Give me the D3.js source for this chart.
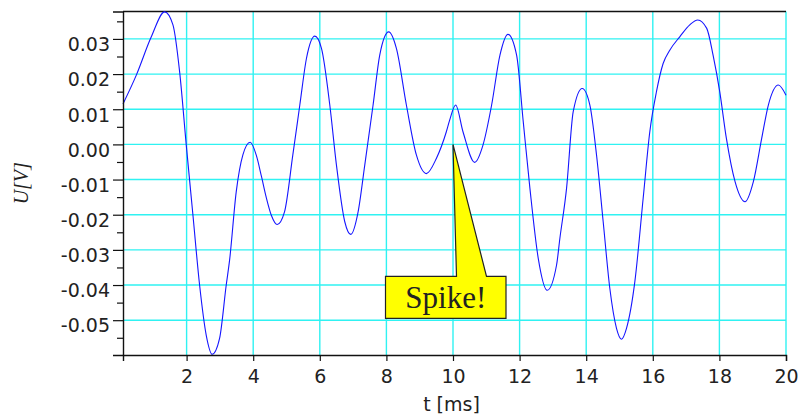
<!DOCTYPE html>
<html>
<head>
<meta charset="utf-8">
<script src="https://cdn.jsdelivr.net/npm/d3@7"></script>
<style>
  html, body { margin: 0; padding: 0; background: #fff; }
  svg { display: block; }
</style>
</head>
<body>
<svg id="chart" width="798" height="416"></svg>
<script>
// ---- data ----
const timeMs = [0.09, 0.49, 0.94, 1.34, 1.59, 1.79, 1.99, 2.19, 2.39, 2.59, 2.77, 2.99, 3.19, 3.29, 3.49, 3.69, 3.91, 4.09, 4.25, 4.39, 4.55, 4.72, 4.94, 5.19, 5.40, 5.60, 5.85, 6.05, 6.30, 6.50, 6.75, 6.93, 7.15, 7.35, 7.60, 7.80, 8.07, 8.30, 8.60, 8.90, 9.20, 9.50, 9.80, 9.90, 10.08, 10.30, 10.65, 10.90, 11.16, 11.41, 11.65, 11.91, 12.11, 12.31, 12.56, 12.83, 13.11, 13.21, 13.41, 13.61, 13.88, 14.11, 14.31, 14.51, 14.71, 14.91, 15.06, 15.21, 15.46, 15.71, 15.91, 16.11, 16.31, 16.51, 16.81, 17.11, 17.35, 17.62, 17.81, 18.01, 18.21, 18.47, 18.77, 19.02, 19.27, 19.47, 19.77, 20.00];
const voltage = [0.0115, 0.0197, 0.0306, 0.0377, 0.0340, 0.0207, -0.0002, -0.0201, -0.0400, -0.0543, -0.0597, -0.0552, -0.0400, -0.0330, -0.0135, -0.0030, 0.0006, -0.0030, -0.0092, -0.0150, -0.0203, -0.0228, -0.0192, -0.0030, 0.0112, 0.0245, 0.0308, 0.0273, 0.0112, -0.0059, -0.0220, -0.0256, -0.0192, -0.0059, 0.0112, 0.0254, 0.0320, 0.0273, 0.0112, -0.0030, -0.0083, -0.0040, 0.0036, 0.0069, 0.0112, 0.0036, -0.0051, -0.0002, 0.0112, 0.0254, 0.0313, 0.0254, 0.0064, -0.0125, -0.0324, -0.0415, -0.0343, -0.0267, -0.0125, 0.0093, 0.0159, 0.0112, -0.0030, -0.0220, -0.0410, -0.0523, -0.0554, -0.0523, -0.0391, -0.0154, 0.0036, 0.0150, 0.0230, 0.0268, 0.0306, 0.0340, 0.0354, 0.0330, 0.0254, 0.0150, 0.0017, -0.0106, -0.0163, -0.0106, 0.0017, 0.0112, 0.0169, 0.0140];
const xTicks = [2, 4, 6, 8, 10, 12, 14, 16, 18, 20];
const yTicks = [-0.05, -0.04, -0.03, -0.02, -0.01, 0.00, 0.01, 0.02, 0.03];
const yMinorTicks = [-0.055, -0.045, -0.035, -0.025, -0.015, -0.005, 0.005, 0.015, 0.025, 0.035];
const xDomain = [0.09, 20];
const yDomain = [-0.0599, 0.0378];
const annotation = { t: 10, u: 0.0, text: "Spike!" };
const xLabel = "t [ms]";
const yLabel = "U[V]";

// ---- layout ----
const W = 798, H = 416;
const m = { left: 123, right: 12, top: 11.5, bottom: 61 };
const iw = W - m.left - m.right, ih = H - m.top - m.bottom;

const svg = d3.select("#chart");
const g = svg.append("g").attr("transform", `translate(${m.left},${m.top})`);

const x = d3.scaleLinear().domain(xDomain).range([0, iw]);
const y = d3.scaleLinear().domain(yDomain).range([ih, 0]);

const gridColor = "#2ff2f2";
// grid
g.append("g").selectAll("line.h").data(yTicks).join("line")
  .attr("x1", 0).attr("x2", iw)
  .attr("y1", d => y(d)).attr("y2", d => y(d))
  .attr("stroke", gridColor).attr("stroke-width", 1.4);
g.append("g").selectAll("line.v").data(xTicks).join("line")
  .attr("x1", d => x(d)).attr("x2", d => x(d))
  .attr("y1", 0).attr("y2", ih)
  .attr("stroke", gridColor).attr("stroke-width", 1.4);

// top border
g.append("line").attr("x1", 0).attr("x2", iw).attr("y1", 0).attr("y2", 0)
  .attr("stroke", "#111").attr("stroke-width", 1.4);

// curve
const pts = timeMs.map((t, i) => [t, voltage[i]]);
g.append("path").datum(pts)
  .attr("fill", "none").attr("stroke", "#1515ff").attr("stroke-width", 1.1)
  .attr("d", d3.line().x(d => x(d[0])).y(d => y(d[1])).curve(d3.curveMonotoneX));

// axes
const fontTick = "DejaVu Sans, sans-serif";
const xAxis = d3.axisBottom(x).tickValues(xTicks).tickSize(6).tickPadding(9).tickFormat(d => String(d));
const xg = g.append("g").attr("transform", `translate(0,${ih})`).call(xAxis);
const yAxis = d3.axisLeft(y).tickValues(yTicks).tickSize(10).tickPadding(3).tickFormat(d => d.toFixed(2));
const yg = g.append("g").call(yAxis);
const yMinor = d3.axisLeft(y).tickValues(yMinorTicks).tickSize(6).tickFormat("");
const ymg = g.append("g").call(yMinor);
ymg.select(".domain").remove();

[xg, yg, ymg].forEach(a => {
  a.select(".domain").attr("stroke", "#111").attr("stroke-width", 1.4);
  a.selectAll(".tick line").attr("stroke", "#111").attr("stroke-width", 1.2);
  a.selectAll("text").attr("font-family", fontTick).attr("font-size", 19).attr("fill", "#222");
});
yg.selectAll(".tick text").attr("dy", "0.62em");
xg.selectAll(".tick text").attr("dy", "0.71em");

// axis titles
svg.append("text")
  .attr("x", m.left + iw / 2 - 3).attr("y", 411)
  .attr("text-anchor", "middle")
  .attr("font-family", fontTick).attr("font-size", 19).attr("fill", "#222")
  .text(xLabel);
svg.append("text")
  .attr("transform", `translate(28,${m.top + ih / 2}) rotate(-90)`)
  .attr("text-anchor", "middle")
  .attr("font-family", "Liberation Serif, serif").attr("font-style", "italic")
  .attr("font-size", 20).attr("fill", "#222")
  .text(yLabel);

// callout
const tx = x(annotation.t), ty = y(annotation.u);
const bx0 = tx - 67.5, bx1 = tx + 53, by0 = ty + 132, by1 = ty + 174;
const p1 = tx + 3.5, p2 = tx + 33.5;
const callout = g.append("g");
callout.append("path")
  .attr("d", `M${bx0},${by0} L${p1},${by0} L${tx},${ty} L${p2},${by0} L${bx1},${by0} L${bx1},${by1} L${bx0},${by1} Z`)
  .attr("fill", "#ffff00").attr("stroke", "#222").attr("stroke-width", 1.2);
callout.append("text")
  .attr("x", (bx0 + bx1) / 2).attr("y", by1 - 10)
  .attr("text-anchor", "middle")
  .attr("font-family", "Liberation Serif, serif").attr("font-size", 31).attr("fill", "#222")
  .text(annotation.text);
</script>
</body>
</html>
